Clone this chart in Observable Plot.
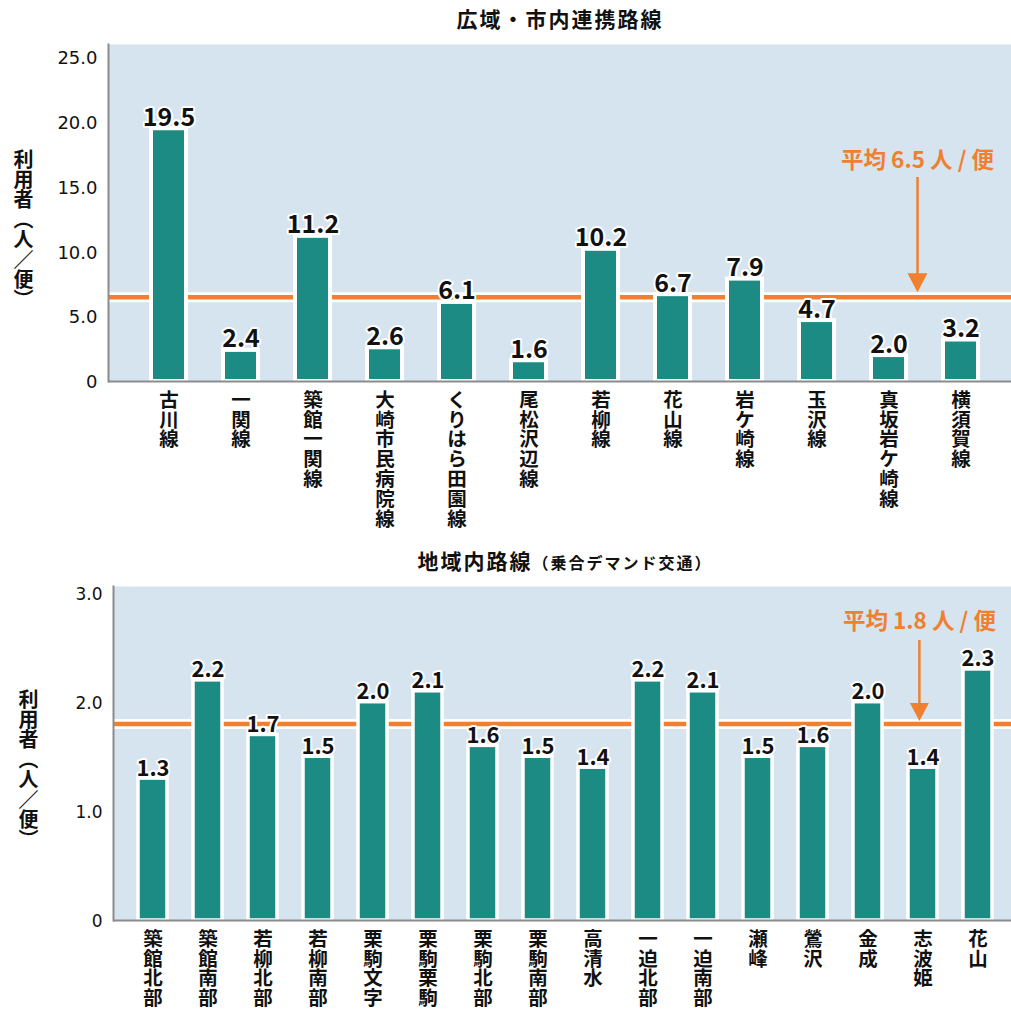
<!DOCTYPE html>
<html><head><meta charset="utf-8">
<script src="https://cdn.jsdelivr.net/npm/d3@7"></script>
<script src="https://cdn.jsdelivr.net/npm/@observablehq/plot@0.6"></script>
<style>
body{margin:0;background:#fff;}
#chart svg{display:block;}
</style></head><body><div id="chart"></div>
<script>
// ---- data ----
const topTitle = "広域・市内連携路線";
const topCategories = ["古川線","一関線","築館一関線","大崎市民病院線","くりはら田園線","尾松沢辺線","若柳線","花山線","岩ケ崎線","玉沢線","真坂岩ケ崎線","横須賀線"];
const topValues = [19.5, 2.4, 11.2, 2.6, 6.1, 1.6, 10.2, 6.7, 7.9, 4.7, 2.0, 3.2];
const topAverage = 6.5;
const topTicks = [0, 5, 10, 15, 20, 25];

const bottomTitle = "地域内路線";
const bottomSubtitle = "（乗合デマンド交通）";
const bottomCategories = ["築館北部","築館南部","若柳北部","若柳南部","栗駒文字","栗駒栗駒","栗駒北部","栗駒南部","高清水","一迫北部","一迫南部","瀬峰","鶯沢","金成","志波姫","花山"];
const bottomValues = [1.3, 2.2, 1.7, 1.5, 2.0, 2.1, 1.6, 1.5, 1.4, 2.2, 2.1, 1.5, 1.6, 2.0, 1.4, 2.3];
const bottomAverage = 1.8;
const bottomTicks = [0, 1, 2, 3];

const yLabel = "利用者（人／便）";

// ---- style ----
const TEAL = "#1b8b83", ORANGE = "#f08030", BG = "#d5e4ee", AXIS = "#8c8c8c";
const FONT = "'Noto Sans CJK JP', 'Noto Sans', sans-serif";
const TICKFONT = "'DejaVu Sans', sans-serif";

const triangleDown = {draw(ctx, size) {
  const r = Math.sqrt(size / Math.PI);
  ctx.moveTo(0, 0); ctx.lineTo(-r, -1.9 * r); ctx.lineTo(r, -1.9 * r); ctx.closePath();
}};

function chart(o) {
  const data = o.categories.map((c, i) => ({cat: c, value: o.values[i]}));
  const titleMarks = o.subtitle
    ? [Plot.text([o.title], {frameAnchor: "top", lineAnchor: "middle", text: d => d, textAnchor: "end", dx: o.titleSplit, dy: -24, fontSize: 21, fontWeight: 700, fill: "#111"}),
       Plot.text([o.subtitle], {frameAnchor: "top", lineAnchor: "middle", text: d => d, textAnchor: "start", dx: o.titleSplit, dy: -23, fontSize: 16, fontWeight: 700, fill: "#111"})]
    : [Plot.text([o.title], {frameAnchor: "top", lineAnchor: "middle", text: d => d, dy: -24, fontSize: 21, fontWeight: 700, fill: "#111"})];
  const svg = Plot.plot({
    width: 1011, height: o.height,
    marginLeft: o.marginLeft, marginRight: 0, marginTop: o.marginTop, marginBottom: o.marginBottom,
    style: {fontFamily: FONT, color: "#111", background: "white", overflow: "visible"},
    x: {type: "band", domain: o.categories, range: o.xRange, paddingInner: o.paddingInner, paddingOuter: 0, axis: null},
    y: {domain: [0, o.yMax], axis: null},
    marks: [
      Plot.frame({fill: BG, stroke: "none"}),
      Plot.ruleY([o.average], {stroke: "white", strokeWidth: 10}),
      Plot.ruleY([o.average], {stroke: ORANGE, strokeWidth: 4.5}),
      Plot.barY(data, {x: "cat", y: "value", fill: TEAL, stroke: "white", strokeWidth: o.barStroke}),
      Plot.ruleY([0], {stroke: AXIS, strokeWidth: 2}),
      Plot.frame({anchor: "left", stroke: AXIS, strokeWidth: 2}),
      Plot.text(data, {x: "cat", y: "value", text: d => d.value.toFixed(1), lineAnchor: "bottom", dy: -3,
        fontSize: o.valueSize, fontWeight: 700, fill: "#111", stroke: "white", strokeWidth: 4, strokeLinejoin: "round"}),
      Plot.axisY(o.ticks, {label: null, tickSize: 0, tickPadding: 11, tickFormat: d => d === 0 ? "0" : d.toFixed(1),
        fontSize: o.tickSize, fontFamily: TICKFONT, fill: "#111", dy: 1}),
      Plot.text(data, {x: "cat", frameAnchor: "bottom", text: d => [...d.cat].join("\n"), lineAnchor: "top",
        lineHeight: 1.02, dy: 11, fontSize: 19.5, fontWeight: 700, fill: "#111"}),
      ...titleMarks,
      Plot.text([yLabel], {frameAnchor: "left", text: d => d, dx: o.yLabelDx, dy: 9.5, fontSize: 20, fontWeight: 700, fill: "#111"}),
      // average annotation
      Plot.text([o.average], {x: [o.arrowCategory], frameAnchor: "top", lineAnchor: "middle", text: d => `平均 ${d.toFixed(1)} 人 / 便`,
        dx: o.arrowDx, dy: o.annoDy, fill: ORANGE, fontSize: 22.5, fontWeight: 700}),
      Plot.ruleX([o.average], {x: [o.arrowCategory], y1: [o.yMax], y2: d => d, insetTop: o.shaftTop, insetBottom: 20,
        dx: o.arrowDx, stroke: ORANGE, strokeWidth: 2.5}),
      Plot.dot([o.average], {x: [o.arrowCategory], y: d => d, symbol: triangleDown, r: o.headR, fill: ORANGE, stroke: "none",
        dx: o.arrowDx, dy: o.tipGap})
    ]
  });
  d3.select(svg).selectAll("text").each(function() {
    const t = this.textContent;
    if (t === yLabel) {
      this.style.writingMode = "vertical-rl";
      this.setAttribute("dy", "0");
      this.setAttribute("text-anchor", "middle");
    }
    if (t === o.title || t === o.subtitle) this.style.letterSpacing = "2px";
  });
  return svg;
}

const root = document.getElementById("chart");
root.appendChild(chart({
  title: topTitle, categories: topCategories, values: topValues, average: topAverage, ticks: topTicks,
  height: 540, marginTop: 44, marginBottom: 159, marginLeft: 108,
  xRange: [149, 979.3], paddingInner: 0.516, yMax: 26, barStroke: 4, valueSize: 25, tickSize: 18,
  yLabelDx: -85, arrowCategory: "真坂岩ケ崎線", arrowDx: 28.5, annoDy: 116, shaftTop: 133, headR: 10, tipGap: -5
}));
root.appendChild(chart({
  title: bottomTitle, subtitle: bottomSubtitle, titleSplit: -30,
  categories: bottomCategories, values: bottomValues, average: bottomAverage, ticks: bottomTicks,
  height: 472, marginTop: 46, marginBottom: 92, marginLeft: 113,
  xRange: [135.25, 994.45], paddingInner: 0.467, yMax: 3.06, barStroke: 3.5, valueSize: 22, tickSize: 17,
  yLabelDx: -85, arrowCategory: "志波姫", arrowDx: -3.6, annoDy: 35.7, shaftTop: 54, headR: 9.5, tipGap: -3
}));
</script></body></html>
